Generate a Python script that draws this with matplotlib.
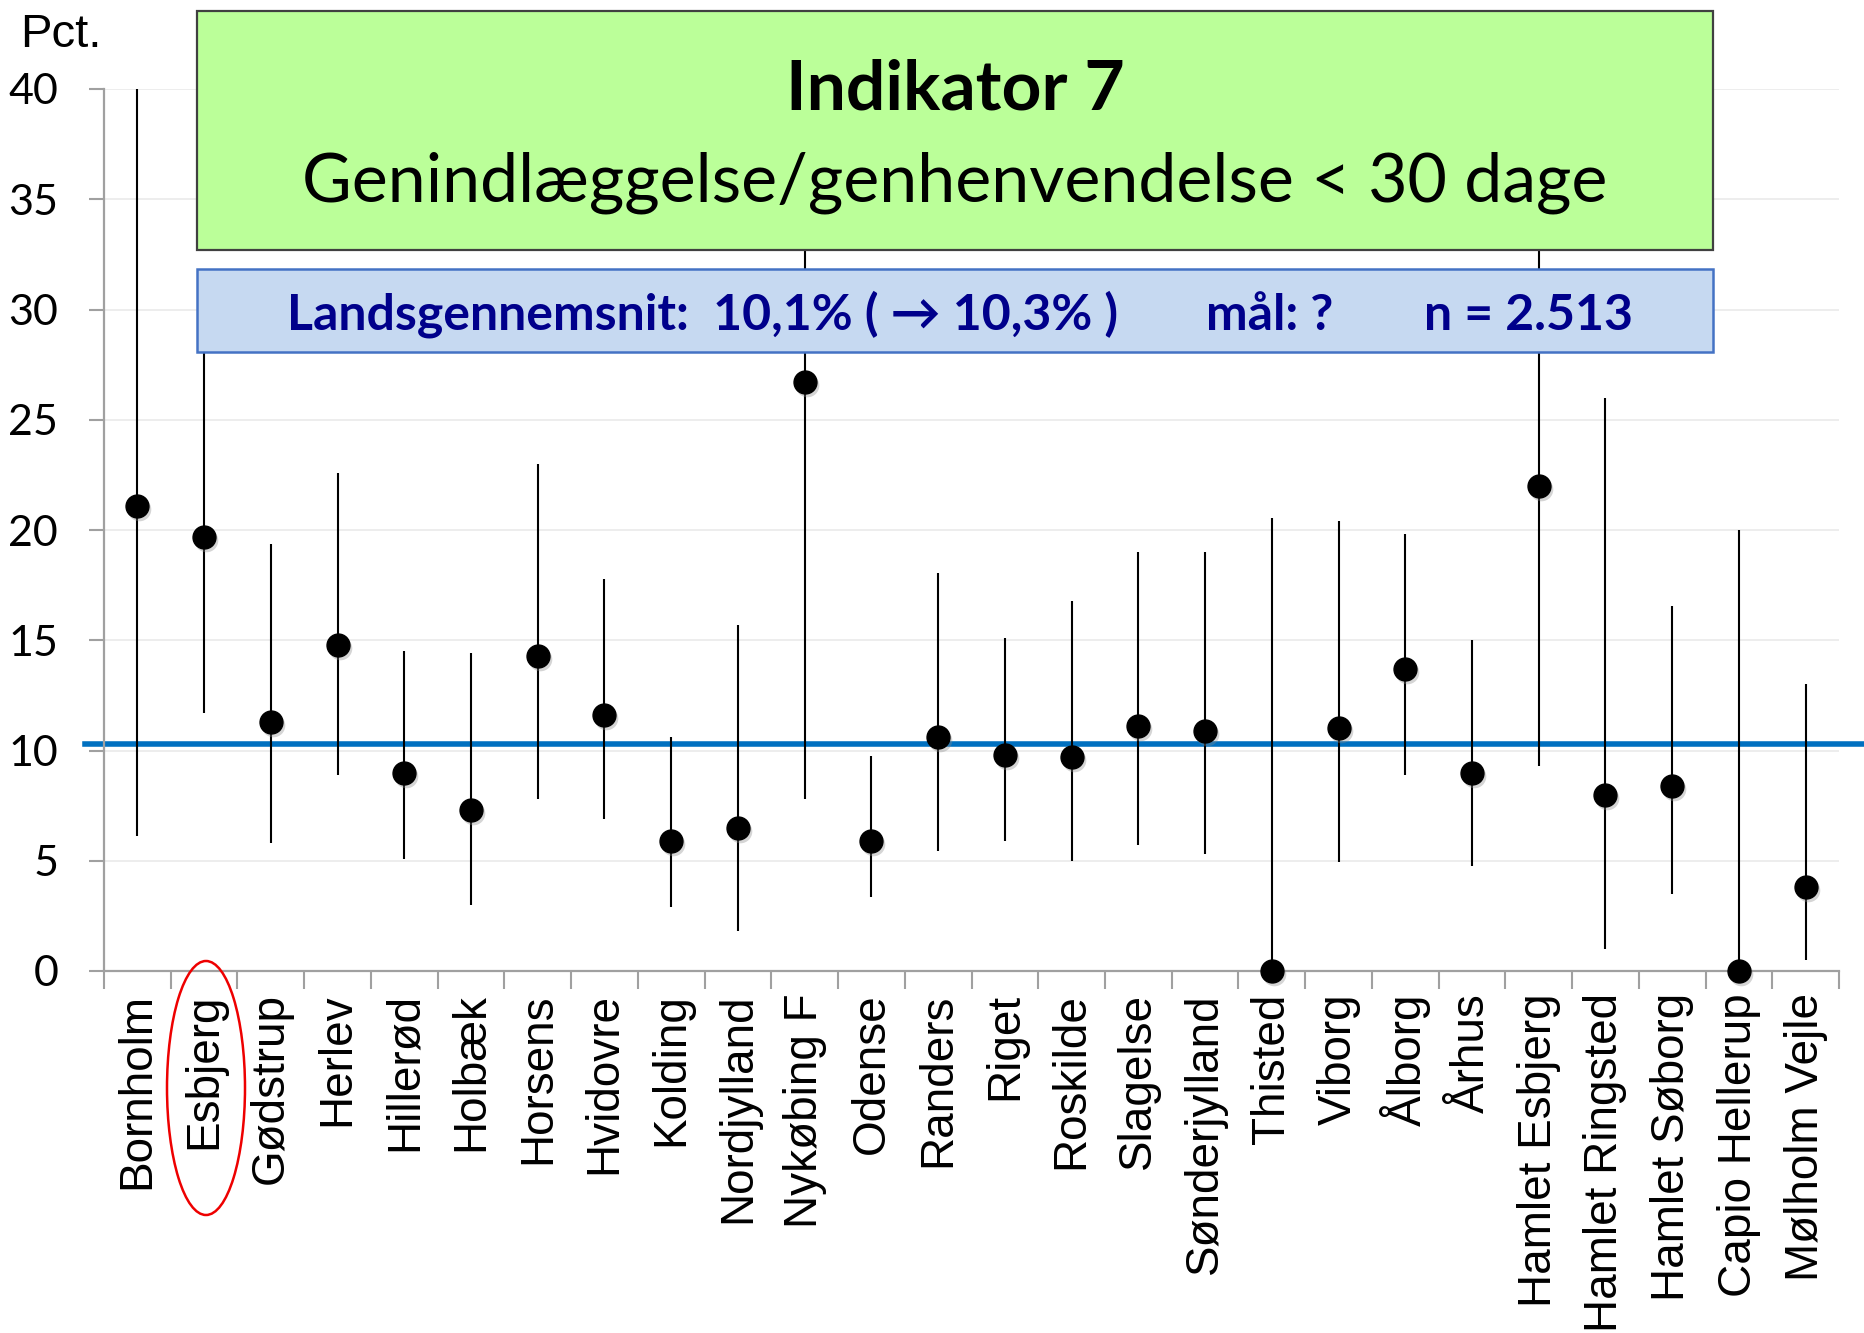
import numpy as np
import matplotlib.pyplot as plt
from matplotlib.patches import Rectangle, Ellipse
from matplotlib.transforms import ScaledTranslation

W, H = 1864, 1333

afdelinger = ['Bornholm', 'Esbjerg', 'Gødstrup', 'Herlev', 'Hillerød', 'Holbæk',
              'Horsens', 'Hvidovre', 'Kolding', 'Nordjylland', 'Nykøbing F', 'Odense',
              'Randers', 'Riget', 'Roskilde', 'Slagelse', 'Sønderjylland', 'Thisted',
              'Viborg', 'Ålborg', 'Århus', 'Hamlet Esbjerg', 'Hamlet Ringsted',
              'Hamlet Søborg', 'Capio Hellerup', 'Mølholm Vejle']
andel = [21.1, 19.7, 11.3, 14.8, 9.0, 7.3, 14.3, 11.6, 5.9, 6.5, 26.7, 5.9,
         10.6, 9.8, 9.7, 11.1, 10.9, 0.0, 11.0, 13.7, 9.0, 22.0, 8.0, 8.4, 0.0, 3.8]
nedre = [6.1, 11.7, 5.8, 8.9, 5.1, 3.0, 7.8, 6.9, 2.9, 1.8, 7.8, 3.35,
         5.45, 5.9, 5.0, 5.7, 5.3, 0.0, 4.95, 8.9, 4.75, 9.3, 1.0, 3.5, 0.0, 0.5]
oevre = [40.0, 29.0, 19.35, 22.6, 14.5, 14.4, 23.0, 17.8, 10.6, 15.7, 40.0, 9.75,
         18.05, 15.1, 16.8, 19.0, 19.0, 20.55, 20.4, 19.8, 15.0, 36.0, 26.0, 16.55,
         20.0, 13.0]
landsgns = 10.3
yticks = [0, 5, 10, 15, 20, 25, 30, 35, 40]


def fx(px):
    return px / W


def fy(px):
    return 1 - px / H


fig = plt.figure(figsize=(W / 100, H / 100), dpi=100)
ax = fig.add_axes([fx(104), fy(971), fx(1839 - 104), (971 - 89) / H])

x = np.arange(len(afdelinger))
ax.vlines(x, nedre, oevre, color='black', lw=1.5, zorder=3)
# lille skygge under punkterne
skygge = ax.transData + ScaledTranslation(2 / 100, -3 / 100, fig.dpi_scale_trans)
ax.plot(x, andel, 'o', ms=17, color='#888888', alpha=0.35, mec='none',
        transform=skygge, zorder=3.5, clip_on=False)
ax.plot(x, andel, 'o', ms=16.5, color='black', zorder=4, clip_on=False)

ax.plot([-0.011, 1.0145], [landsgns, landsgns], color='#0070C0', lw=4,
        transform=ax.get_yaxis_transform(), clip_on=False, zorder=2)

ax.set_xlim(-0.5, len(afdelinger) - 0.5)
ax.set_ylim(0, 40)
ax.set_yticks(yticks)
ax.set_yticklabels([str(v) for v in yticks], family='Lato', fontsize=31)
ax.grid(axis='y', color='#EAEAEA', lw=1.2, zorder=0)
ax.set_axisbelow(True)

ax.set_xticks(x)
ax.set_xticklabels(afdelinger, rotation=90, family='Liberation Sans', fontsize=33)
ax.set_xticks(np.arange(len(afdelinger) + 1) - 0.5, minor=True)
ax.tick_params(axis='x', which='major', length=0, pad=16)
ax.tick_params(axis='x', which='minor', length=13, width=1.5, color='#A0A0A0',
               direction='out')
ax.tick_params(axis='y', length=11, width=1.5, color='#A0A0A0', pad=22)

for s in ['top', 'right']:
    ax.spines[s].set_visible(False)
for s in ['left', 'bottom']:
    ax.spines[s].set_color('#A0A0A0')
    ax.spines[s].set_linewidth(1.6)

fig.text(fx(20), fy(47), 'Pct.', family='Liberation Sans', fontsize=34,
         va='baseline', ha='left')

# titelboks
fig.add_artist(Rectangle((fx(197), fy(250)), fx(1713 - 197), (250 - 11) / H,
                         transform=fig.transFigure, facecolor='#BBFF99',
                         edgecolor='#404040', lw=1.6, zorder=5))
fig.text(fx(955), fy(109), 'Indikator 7', family='Lato', weight='bold',
         fontsize=50, ha='center', va='baseline', zorder=6)
fig.text(fx(955), fy(202), 'Genindlæggelse/genhenvendelse < 30 dage', family='Lato',
         fontsize=49, ha='center', va='baseline', zorder=6)

# boks med landsgennemsnit
fig.add_artist(Rectangle((fx(197), fy(352)), fx(1713 - 197), (352 - 269) / H,
                         transform=fig.transFigure, facecolor='#C6D9F1',
                         edgecolor='#4472C4', lw=1.8, zorder=5))
blaa = '#00008B'
fnt = ['Lato', 'DejaVu Sans']
fig.text(fx(287), fy(330), 'Landsgennemsnit:  10,1% ( \u2192 10,3% )', family=fnt,
         weight='bold', fontsize=36, color=blaa, ha='left', va='baseline', zorder=6)
fig.text(fx(1206), fy(330), 'mål: ?', family=fnt, weight='bold', fontsize=36,
         color=blaa, ha='left', va='baseline', zorder=6)
fig.text(fx(1424), fy(330), 'n = 2.513', family=fnt, weight='bold', fontsize=36,
         color=blaa, ha='left', va='baseline', zorder=6)

# ring om Esbjerg
fig.add_artist(Ellipse((fx(206), fy(1088)), fx(78), 254 / H, transform=fig.transFigure,
                       fill=False, edgecolor='#EE0000', lw=1.8, zorder=6))

fig.savefig('out.png', dpi=100)
